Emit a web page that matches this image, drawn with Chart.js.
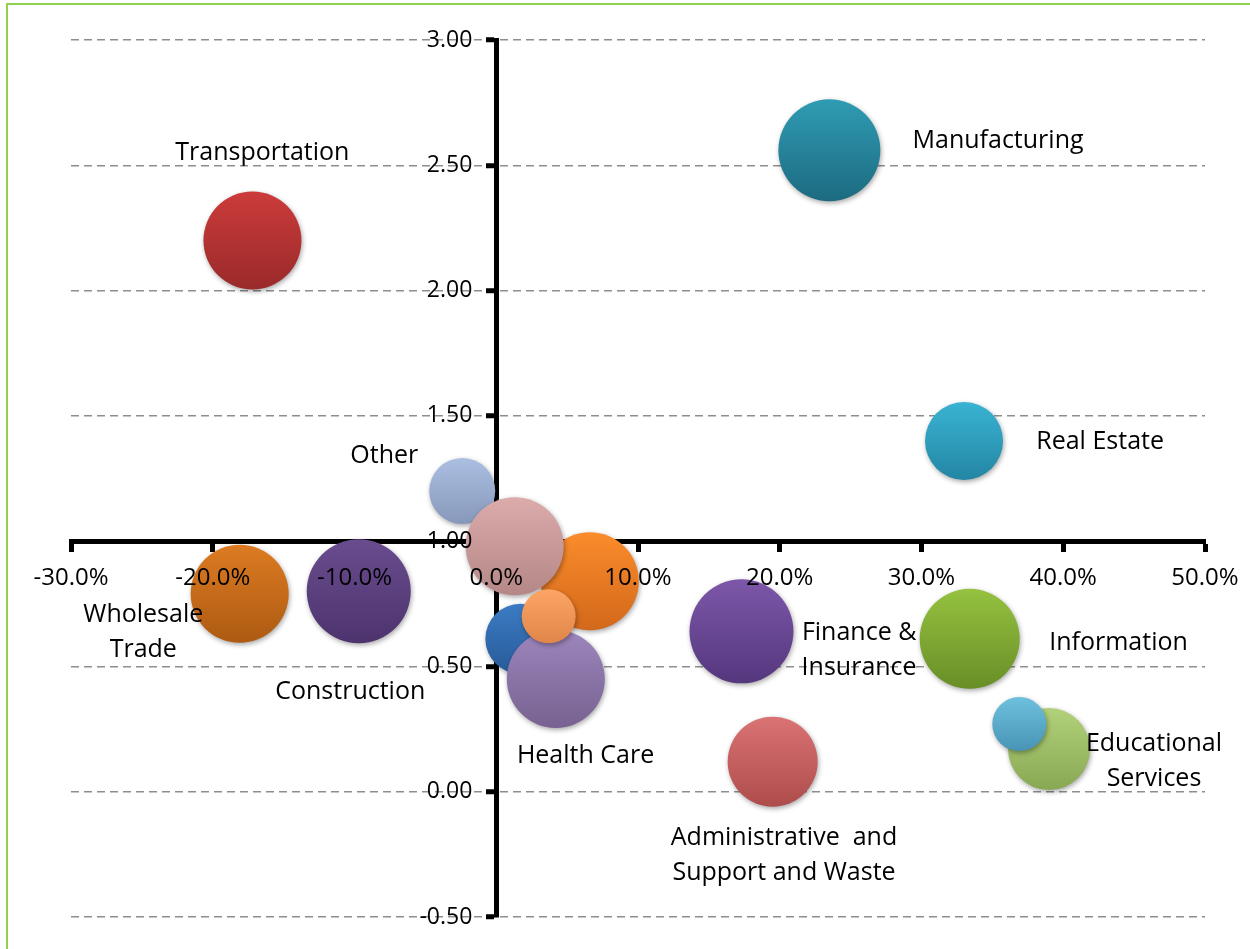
<!DOCTYPE html>
<html>
<head>
<meta charset="utf-8">
<script src="https://cdn.jsdelivr.net/npm/chart.js@4/dist/chart.umd.min.js"></script>
<style>
  html, body { margin: 0; padding: 0; background: #fff; }
  #wrap { position: relative; width: 1250px; height: 949px; }
  #frame { position: absolute; left: 6px; top: 3px; right: 0; bottom: 0;
           border-top: 2px solid #92d050; border-left: 2px solid #92d050; pointer-events: none; }
</style>
</head>
<body>
<div id="wrap">
  <canvas id="bubbleChart" width="1250" height="949"></canvas>
  <div id="frame"></div>
</div>
<script>
// one entry per bubble, in drawing order (later ones sit on top)
const industries = ['Manufacturing', 'Transportation', 'Real Estate', 'Wholesale Trade', 'Construction',
  'Other', 'Unlabeled A', 'Unlabeled B', 'Unlabeled C', 'Health Care', 'Unlabeled D',
  'Finance & Insurance', 'Information', 'Educational Services', 'Unlabeled E',
  'Administrative and Support and Waste'];
const growthPct = [23.5, -17.2, 33.0, -18.1, -9.7, -2.4, 6.6, 1.3, 1.7, 4.2, 3.7, 17.3, 33.4, 39.0, 36.9, 19.5];
const ratio = [2.56, 2.20, 1.40, 0.79, 0.80, 1.20, 0.84, 0.98, 0.61, 0.45, 0.70, 0.64, 0.61, 0.17, 0.27, 0.12];
const bubbleSize = [51, 49, 39, 49, 52, 33, 49, 49, 35, 49, 27, 52, 50, 41, 27, 45];

const topColors = ['#2f9cb3', '#cc3b3b', '#3ab3d2', '#dc7b22', '#694c8e', '#abbfe2', '#fb8c2c', '#dcabab',
  '#3b7bc4', '#9c86bc', '#fca466', '#7d57a9', '#95c240', '#b2d17a', '#6ec0df', '#da7373'];
const bottomColors = ['#1c6a80', '#9a2a2a', '#2386a4', '#ad5a12', '#4d336e', '#8798ba', '#d2681a', '#b58787',
  '#285b98', '#776291', '#e0864a', '#55377e', '#688e26', '#89a853', '#4894b5', '#ae4c4c'];

// data labels: text lines and anchor (centre of the text block) in axis units
const labelLines = [['Manufacturing'], ['Transportation'], ['Real Estate'], ['Wholesale', 'Trade'], ['Construction'],
  ['Other'], [], [], [], ['Health Care'], [], ['Finance &', 'Insurance'], ['Information'],
  ['Educational', 'Services'], [], ['Administrative  and', 'Support and Waste']];
const labelX = [35.4, -16.5, 42.6, -24.9, -10.3, -7.9, 0, 0, 0, 6.3, 0, 25.6, 43.9, 46.4, 0, 20.3];
const labelY = [2.596, 2.548, 1.395, 0.637, 0.40, 1.339, 0, 0, 0, 0.142, 0, 0.565, 0.593, 0.122, 0, -0.256];

const FONT = 'Open Sans';

function bubbleFill(c) {
  const i = c.dataIndex;
  const chart = c.chart;
  if (i === undefined || !chart.chartArea) return topColors[i || 0];
  const yPix = chart.scales.y.getPixelForValue(ratio[i]);
  const r = bubbleSize[i];
  const g = chart.ctx.createLinearGradient(0, yPix - r, 0, yPix + r);
  g.addColorStop(0, topColors[i]);
  g.addColorStop(1, bottomColors[i]);
  return g;
}

// axes sit inside the plot, so they should not push the plot area around
function noPadding(s) {
  s.paddingTop = s.paddingBottom = s.paddingLeft = s.paddingRight = 0;
  if (s.isHorizontal()) s.height = 0; else s.width = 0;
}

const bubbleExtras = {
  id: 'bubbleExtras',
  beforeDatasetsDraw(chart) {
    const ctx = chart.ctx;
    ctx.save();
    ctx.shadowColor = 'rgba(0,0,0,0.35)';
    ctx.shadowBlur = 5;
    ctx.shadowOffsetX = 1;
    ctx.shadowOffsetY = 2;
  },
  afterDatasetsDraw(chart) {
    const ctx = chart.ctx;
    ctx.restore();
    const {x, y} = chart.scales;
    ctx.save();
    ctx.fillStyle = '#000';
    ctx.font = '25px "' + FONT + '"';
    ctx.textAlign = 'center';
    ctx.textBaseline = 'middle';
    const lh = 35;
    labelLines.forEach((lines, i) => {
      if (!lines.length) return;
      const cx = x.getPixelForValue(labelX[i]);
      const cy = y.getPixelForValue(labelY[i]);
      const top = cy - (lines.length - 1) * lh / 2;
      lines.forEach((t, k) => ctx.fillText(t, cx, top + k * lh));
    });
    ctx.restore();
  }
};

new Chart(document.getElementById('bubbleChart'), {
  type: 'bubble',
  data: {
    datasets: [{
      label: 'Industries',
      data: growthPct.map((v, i) => ({x: v, y: ratio[i], r: bubbleSize[i]})),
      backgroundColor: bubbleFill,
      borderWidth: 0,
      hoverBorderWidth: 0,
      clip: false
    }]
  },
  options: {
    responsive: false,
    animation: false,
    layout: { autoPadding: false, padding: { left: 71, top: 40, right: 45, bottom: 32 } },
    plugins: {
      legend: { display: false },
      tooltip: { enabled: false }
    },
    scales: {
      x: {
        type: 'linear',
        min: -30,
        max: 50,
        position: { y: 1 },
        afterFit: noPadding,
        border: { display: true, color: '#000', width: 5 },
        grid: { drawOnChartArea: false, drawTicks: true, tickLength: 8, tickColor: '#000', tickWidth: 5 },
        ticks: {
          stepSize: 10, autoSkip: false, maxRotation: 0, padding: 15, z: 1,
          color: '#000', font: { family: FONT, size: 24 },
          callback: v => v.toFixed(1) + '%'
        }
      },
      y: {
        type: 'linear',
        min: -0.5,
        max: 3,
        position: { x: 0 },
        afterFit: noPadding,
        border: { display: true, color: '#000', width: 5, dash: [8, 5] },
        grid: { color: '#8e8e8e', lineWidth: 1.5, drawTicks: true, tickLength: 8, tickColor: '#000', tickWidth: 5, tickBorderDash: [] },
        ticks: {
          stepSize: 0.5, padding: 0, z: 1,
          color: '#000', font: { family: FONT, size: 23 },
          // positioned axis puts the label's right edge on the axis line, so pad it off
          callback: v => v.toFixed(2) + '    '
        }
      }
    }
  },
  plugins: [bubbleExtras]
});
</script>
</body>
</html>
